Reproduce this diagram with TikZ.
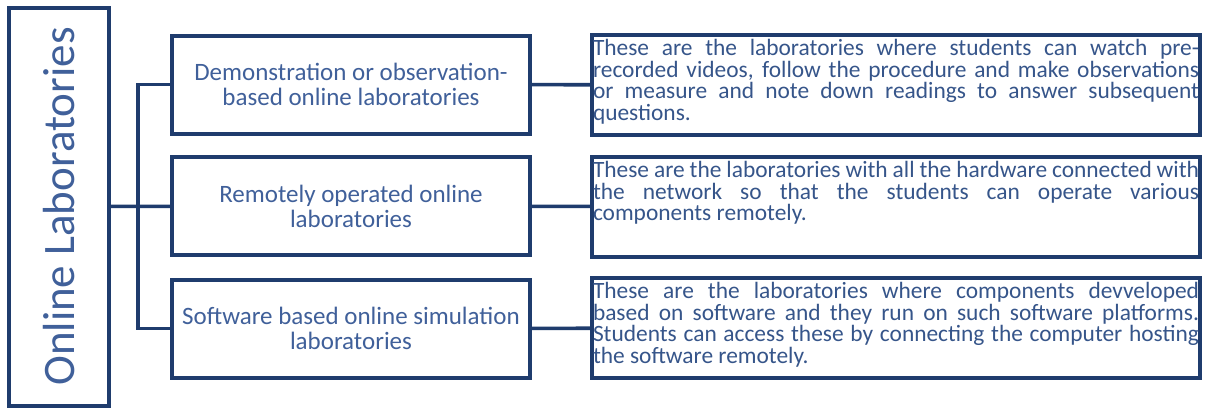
\documentclass[tikz,border=0pt]{standalone}
\usepackage{fontspec}
\setmainfont{Carlito}
\definecolor{labnavy}{HTML}{1F3C6D}
\definecolor{labtext}{HTML}{40609A}
\definecolor{desctext}{HTML}{36558A}
\begin{document}
\begin{tikzpicture}[x=.5pt, y=-.5pt, line width=1.8pt,
  rootbox/.style={draw=labnavy, line width=2pt, minimum width=199pt, minimum height=50pt, text=labtext, font=\fontsize{22.5}{24}\selectfont},
  labbox/.style={draw=labnavy, line width=2pt, minimum width=179pt, minimum height=49pt, align=center, text=labtext, font=\fontsize{12.5}{12.5}\selectfont},
  descbox/.style={draw=labnavy, line width=2pt, minimum width=304pt, minimum height=50pt, inner sep=0pt, text=desctext, font=\fontsize{11.7}{10.9}\selectfont}]
\useasboundingbox[fill=white] (0, 0) rectangle (1206, 408);
\node[rootbox, rotate=90] (root) at (59, 206.5) {Online Laboratories};
\node[labbox] (demo) at (351, 84.5) {Demonstration or observation-\\based online laboratories};
\node[labbox] (remote) at (351, 206) {Remotely operated online\\laboratories};
\node[labbox] (soft) at (351, 328.5) {Software based online simulation\\laboratories};
\node[descbox] (demodesc) at (896, 85) {\parbox[c][46pt][t]{303pt}{These are the laboratories where students can watch pre-\linebreak recorded videos, follow the procedure and make observations\linebreak or measure and note down readings to answer subsequent\linebreak questions.}};
\node[descbox] (remotedesc) at (896, 207) {\parbox[c][46pt][t]{303pt}{These are the laboratories with all the hardware connected with\linebreak the network so that the students can operate various\linebreak components remotely.}};
\node[descbox] (softdesc) at (896, 328) {\parbox[c][46pt][t]{303pt}{These are the laboratories where components devveloped\linebreak based on software and they run on such software platforms.\linebreak Students can access these by connecting the computer hosting\linebreak the software remotely.}};
\draw[labnavy] (root) -- (remote);
\draw[labnavy] (demo.west) -- ++(-32, 0) |- (soft.west);
\draw[labnavy] (demo) -- (demodesc);
\draw[labnavy] (remote) -- (remotedesc);
\draw[labnavy] (soft) -- (softdesc);
\end{tikzpicture}
\end{document}
